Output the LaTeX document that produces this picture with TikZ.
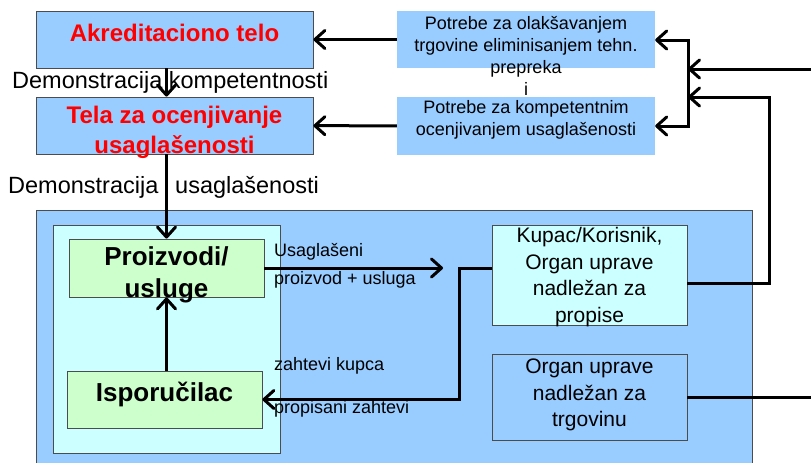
\documentclass[tikz,border=0pt]{standalone}
\usepackage{fontspec}
\setmainfont{Liberation Sans}
\usetikzlibrary{arrows.meta,fit}
\definecolor{skyfill}{HTML}{99CCFF}
\definecolor{cyanfill}{HTML}{CCFFFF}
\definecolor{greenfill}{HTML}{CCFFCC}
\definecolor{titlered}{HTML}{FF0000}

\tikzset{
  box/.style={draw=black!70, line width=0.8pt, inner sep=0pt},
  plainbox/.style={inner sep=0pt},
  conn/.style={line width=3pt, line join=miter},
  arr/.style={conn, -{Straight Barb[length=10pt,width=18pt,round]}},
  arrboth/.style={conn, {Straight Barb[length=10pt,width=18pt,round]}-{Straight Barb[length=10pt,width=18pt,round]}},
  redtitle/.style={text=titlered, font=\bfseries\fontsize{24}{30}\selectfont, align=center, inner sep=0pt},
  boldtitle/.style={font=\bfseries\fontsize{26}{32}\selectfont, align=center, inner sep=0pt},
  biglabel/.style={font=\fontsize{23.5}{28}\selectfont, inner sep=0pt, anchor=west},
  smalllabel/.style={font=\fontsize{18}{22}\selectfont, inner sep=0pt, anchor=west},
  needtext/.style={font=\fontsize{18}{22}\selectfont, align=center, inner sep=0pt},
  bodytext/.style={font=\fontsize{21}{26.5}\selectfont, align=center, inner sep=0pt}
}

\begin{document}
\begin{tikzpicture}[x=1pt,y=-1pt]
  \useasboundingbox (0,0) rectangle (811,463);

  % top boxes
  \node[box, fill=skyfill, fit={(36,11) (313,68)}] (akred) {};
  \node[box, fill=skyfill, fit={(36,97) (313,154)}] (tela) {};
  \node[plainbox, fill=skyfill, fit={(397,11) (655,68)}] (pot1) {};
  \node[plainbox, fill=skyfill, fit={(397,97) (655,155)}] (pot2) {};

  % lower area
  \node[box, fill=skyfill, fit={(36,210) (752,470)}] (area) {};
  \node[box, fill=cyanfill, fit={(53,225) (280,453)}] (firm) {};
  \node[box, fill=greenfill, fit={(69,239) (264,297)}] (prod) {};
  \node[box, fill=greenfill, fit={(67,371) (262,428)}] (isp) {};
  \node[box, fill=cyanfill, fit={(492,225) (687,325)}] (kupac) {};
  \node[box, fill=skyfill, fit={(492,354) (687,440)}] (trg) {};

  % texts in boxes
  \node[redtitle] (akredtxt) at (174.5,33) {Akreditaciono telo};
  \node[redtitle] (telatxt) at (174.5,132) {Tela za ocenjivanje\\usaglašenosti};
  \node[needtext] (pot1txt) at (526,56) {Potrebe za olakšavanjem\\trgovine eliminisanjem tehn.\\prepreka\\i};
  \node[needtext] (pot2txt) at (526,120) {Potrebe za kompetentnim\\ocenjivanjem usaglašenosti};
  \node[boldtitle] (prodtxt) at (166.5,275) {Proizvodi/\\usluge};
  \node[boldtitle] (isptxt) at (164.5,394) {Isporučilac};
  \node[bodytext] (kupactxt) at (589.5,277) {Kupac/Korisnik,\\Organ uprave\\nadležan za\\propise};
  \node[bodytext] (trgtxt) at (589.5,395) {Organ uprave\\nadležan za\\trgovinu};

  % connectors
  \coordinate (uend) at (443,268);
  \coordinate (bustop) at (688,40);
  \coordinate (busbot) at (688,126);
  \coordinate (rbend) at (769,97);
  \coordinate (redge1) at (811,69);
  \coordinate (redge2) at (811,397);

  \draw[arr] (akred.south -| prod) -- (tela.north -| prod);
  \draw[arr] (tela.south -| prod) -- (prod.north);
  \draw[arr] (isp.north -| prod) -- (prod.south);
  \draw[arr] (prod.east) -- (uend);
  \draw[arr] (kupac.west |- uend) -- ++(-32,0) |- (isp.east);
  \draw[arr] (pot1) -- (akred);
  \draw[arr] (pot2) -- (tela);
  \draw[arrboth] (pot1.east |- bustop) -- (bustop) -- (busbot) -- (pot2.east |- busbot);
  \draw[arr] (redge1) -- (redge1 -| bustop);
  \draw[arr] ([yshift=-8pt]kupac.east) -| (rbend) -- (rbend -| bustop);
  \draw[conn] (trg.east) -- (redge2);

  % connector labels
  \node[biglabel] (demo1) at (12,82) {Demonstracija kompetentnosti};
  \node[biglabel] (demo2a) at (8,187) {Demonstracija};
  \node[biglabel] (demo2b) at (175,187) {usaglašenosti};
  \node[smalllabel] (usg1) at (274,252) {Usaglašeni};
  \node[smalllabel] (usg2) at (274,280) {proizvod + usluga};
  \node[smalllabel] (zah1) at (274,366) {zahtevi kupca};
  \node[smalllabel] (zah2) at (274,409) {propisani zahtevi};
\end{tikzpicture}
\end{document}
